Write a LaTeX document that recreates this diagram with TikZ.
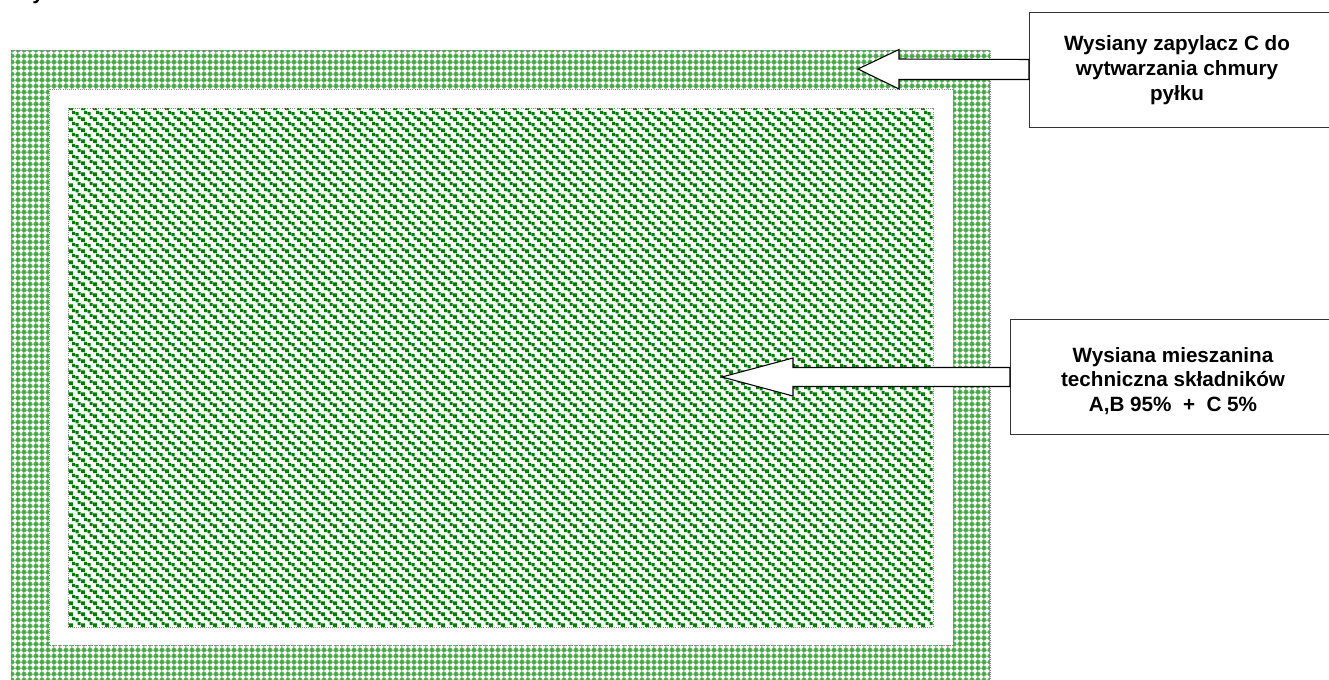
\documentclass[tikz,border=0pt]{standalone}
\usepackage{fontspec}
\setmainfont{Liberation Sans}
\usetikzlibrary{patterns, calc}
\definecolor{ringgreen}{HTML}{45A845}
\definecolor{dotgreen}{HTML}{007A00}
\definecolor{edgegray}{HTML}{8C8C8C}
\newcommand{\confsq}[2]{\pgfpathrectangle{\pgfqpoint{#1pt}{#2pt}}{\pgfqpoint{2.4pt}{2.4pt}}}
% white pluses on the green ring, dark green squares on the field
\pgfdeclarepatternformonly{pluses}{\pgfqpoint{0pt}{0pt}}{\pgfqpoint{4.8pt}{4.8pt}}{\pgfqpoint{4.8pt}{4.8pt}}{%
  \pgfpathrectangle{\pgfqpoint{1.5pt}{0.3pt}}{\pgfqpoint{1.8pt}{4.2pt}}%
  \pgfpathrectangle{\pgfqpoint{0.3pt}{1.5pt}}{\pgfqpoint{4.2pt}{1.8pt}}%
  \pgfusepath{fill}}
\pgfdeclarepatternformonly{confetti}{\pgfqpoint{0pt}{0pt}}{\pgfqpoint{9pt}{8pt}}{\pgfqpoint{9pt}{8pt}}{%
  \confsq{0.1}{4.6}\confsq{2.9}{3.6}\confsq{4.6}{0.6}%
  \confsq{7.4}{7.6}\confsq{-1.6}{7.6}\confsq{7.4}{-0.4}\confsq{-1.6}{-0.4}%
  \pgfusepath{fill}}
\tikzset{
  ring/.style={fill=ringgreen, postaction={pattern=pluses, pattern color=white}},
  band/.style={fill=white, draw=edgegray, densely dotted, line width=0.6pt},
  field/.style={pattern=confetti, pattern color=dotgreen, draw=edgegray,
                densely dotted, line width=0.6pt},
  callout/.style={draw=black!80, line width=0.9pt, fill=white, anchor=north west,
                  minimum height=86.25pt, inner sep=0pt},
  calltext/.style={align=center, inner sep=0pt,
                   font=\bfseries\fontsize{15.5}{18.5}\selectfont},
  blockarrow/.style={draw=black, line width=0.8pt, fill=white, line join=miter},
}

\begin{document}
\begin{tikzpicture}[x=0.75pt, y=-0.75pt]
  \useasboundingbox (0,0) rectangle (1329,679);
  \clip (0,0) rectangle (1329,679);
  \node[calltext, anchor=base west] (cut) at (32,-1) {y};
  % plot: green ring, white band, sown field
  \path[ring] (11,50) rectangle (990,700);
  \draw[edgegray, densely dotted, line width=0.6pt] (11,700) -- (11,50) -- (990,50) -- (990,700);
  \path[band] (49,89) rectangle (953,645);
  \path[field] (68,108) rectangle (933,627);
  % callouts
  \node[callout, minimum width=237pt] (boxC) at (1029,12) {};
  \node[calltext] (txtC) at (1177,70) {Wysiany zapylacz C do\\wytwarzania chmury\\pyłku};
  \node[callout, minimum width=251pt] (boxMix) at (1010,319) {};
  \node[calltext] (txtMix) at (1173,381) {Wysiana mieszanina\\techniczna składników\\A,B 95\%\ \ +\ \ C 5\%};
  \coordinate (tipC) at (858,69);
  \coordinate (tipMix) at (722,377);
  \draw[blockarrow] (tipC) -- ++(41,-19.5) -- ++(0,9.5) -- (boxC.west |- 0,59.5)
        -- ++(0,20) -- (899,79.5) -- ++(0,9.5) -- cycle;
  \draw[blockarrow] (tipMix) -- ++(71,-19) -- ++(0,9.5) -- (boxMix.west |- 0,367.5)
        -- ++(0,19) -- (793,386.5) -- ++(0,9.5) -- cycle;
\end{tikzpicture}
\end{document}
